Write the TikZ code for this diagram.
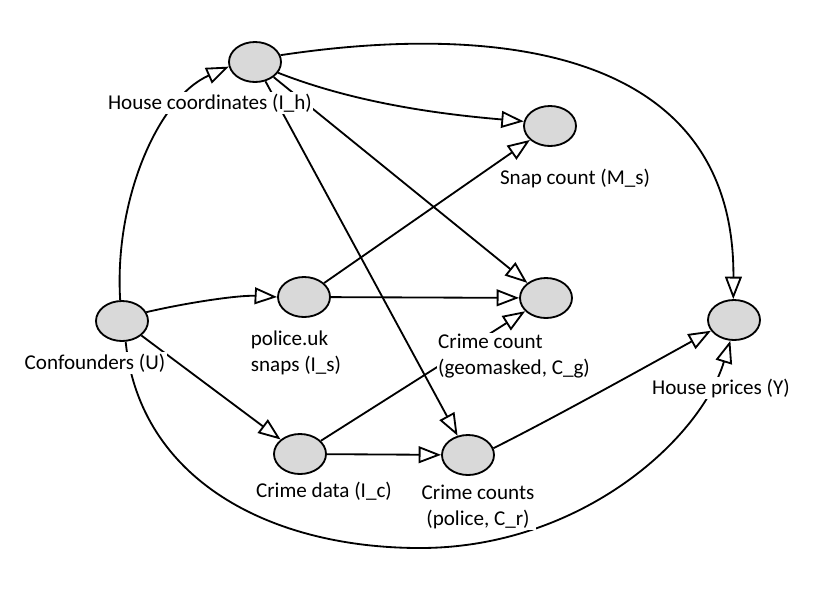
\documentclass[tikz,border=0pt]{standalone}
\usepackage{fontspec}
\setmainfont{Carlito}
\usetikzlibrary{arrows.meta,shapes.geometric}
\definecolor{nodegray}{RGB}{217,217,217}
\tikzset{
	var/.style={ellipse, draw, fill=nodegray, line width=1.3pt, minimum width=1.3cm, minimum height=1cm, inner sep=0pt},
	lbl/.style={fill=white, inner sep=1pt, font=\fontsize{15}{18.5}\selectfont},
	edge/.style={line width=1.3pt, -{Triangle[open, length=0.56cm, width=0.42cm, fill=white]}}
}

\begin{document}
\begin{tikzpicture}[x=0.025cm, y=0.025cm]
	%%%%% START %%%%%
	\useasboundingbox (0, 0) rectangle (840, -607);
	
	% variables
	\node[var] (Ih) at (255, -62) {};
	\node[var] (Ms) at (550, -126) {};
	\node[var] (Is) at (304, -297) {};
	\node[var] (Cg) at (546, -298) {};
	\node[var] (U) at (122, -321) {};
	\node[var] (Ic) at (300, -454) {};
	\node[var] (Cr) at (468, -455) {};
	\node[var] (Y) at (734, -320) {};
	
	% edges
	\draw[edge] (U.95) .. controls (114, -200) and (158, -98) .. (Ih.190);
	\draw[edge] (U.20) .. controls (190, -302) and (240, -295) .. (Is.180);
	\draw[edge] (U) -- (Ic);
	\draw[edge] (U.280) .. controls (140, -480) and (270, -548) .. (420, -548)
		.. controls (580, -548) and (700, -440) .. (Y.260);
	
	\draw[edge] (Ih.15) .. controls (480, -25) and (735, -40) .. (Y.92);
	\draw[edge] (Ih.-25) .. controls (360, -105) and (450, -115) .. (Ms.170);
	\draw[edge] (Ih) -- (Cg);
	\draw[edge] (Ih) -- (Cr);
	
	\draw[edge] (Is) -- (Ms);
	\draw[edge] (Is) -- (Cg);
	\draw[edge] (Ic) -- (Cg);
	\draw[edge] (Ic) -- (Cr);
	\draw[edge] (Cr.15) .. controls (550, -420) and (640, -370) .. (Y.205);
	
	% labels
	\node[lbl] (IhText) at (210, -103) {House coordinates (I\_h)};
	\node[lbl] (MsText) at (575, -178) {Snap count (M\_s)};
	\node[lbl, align=left] (IsText) at (296, -353) {police.uk\\snaps (I\_s)};
	\node[lbl, align=left] (CgText) at (514, -356) {Crime count\\(geomasked, C\_g)};
	\node[lbl] (UText) at (95, -363) {Confounders (U)};
	\node[lbl] (IcText) at (324, -491) {Crime data (I\_c)};
	\node[lbl, align=center] (CrText) at (478, -507) {Crime counts\\(police, C\_r)};
	\node[lbl] (YText) at (721, -388) {House prices (Y)};
	%%%%% END %%%%%
\end{tikzpicture}
\end{document}
